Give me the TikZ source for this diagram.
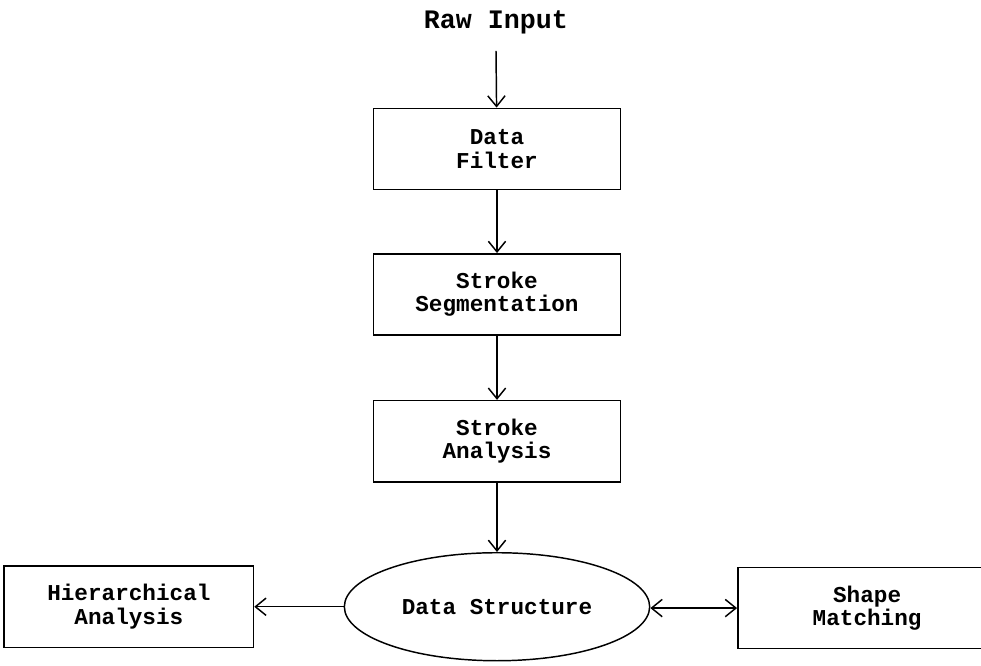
\documentclass[tikz,border=0pt]{standalone}
\usepackage{fontspec}
\setmonofont{Liberation Mono}
\usetikzlibrary{shapes.geometric,arrows.meta,positioning}

\begin{document}
\begin{tikzpicture}[
        x=0.75pt, y=-0.75pt,
        line width=1.1pt,
        >={Straight Barb[length=8pt,width=13pt]},
        font=\ttfamily\bfseries\fontsize{17}{17.5}\selectfont,
        block/.style={
            rectangle,
            draw,
            text centered,
            minimum width=185pt,
            minimum height=61pt,
            align=center
        },
        store/.style={
            ellipse,
            draw,
            minimum width=229pt,
            minimum height=81pt,
            inner sep=0pt
        },
        line/.style={
            draw,
            ->
        }
    ]

    \useasboundingbox (0,0) rectangle (981,666);

    % Nodes
    \node [font=\ttfamily\bfseries\fontsize{20}{22}\selectfont] (raw) at (496,22) {Raw Input};
    \node [block] (filter) at (497,149) {Data\\Filter};
    \node [block, below=47pt of filter] (segment) {Stroke\\Segmentation};
    \node [block, below=48pt of segment] (analysis) {Stroke\\Analysis};
    \node [store, below=52pt of analysis] (data) {Data Structure};
    \node [block, left=67pt of data, minimum width=187pt] (hier) {Hierarchical\\Analysis};
    \node [block, right=65pt of data, minimum width=194pt, yshift=-1pt] (shape) {Shape\\Matching};

    % Connections
    \path [line] ([yshift=-9pt]raw.south) -- (filter);
    \path [line] (filter) -- (segment);
    \path [line] (segment) -- (analysis);
    \path [line] (analysis) -- (data);
    \path [line] (data) -- (hier);
    \path [line, <->] (data.east |- shape.west) -- (shape.west);

\end{tikzpicture}
\end{document}
